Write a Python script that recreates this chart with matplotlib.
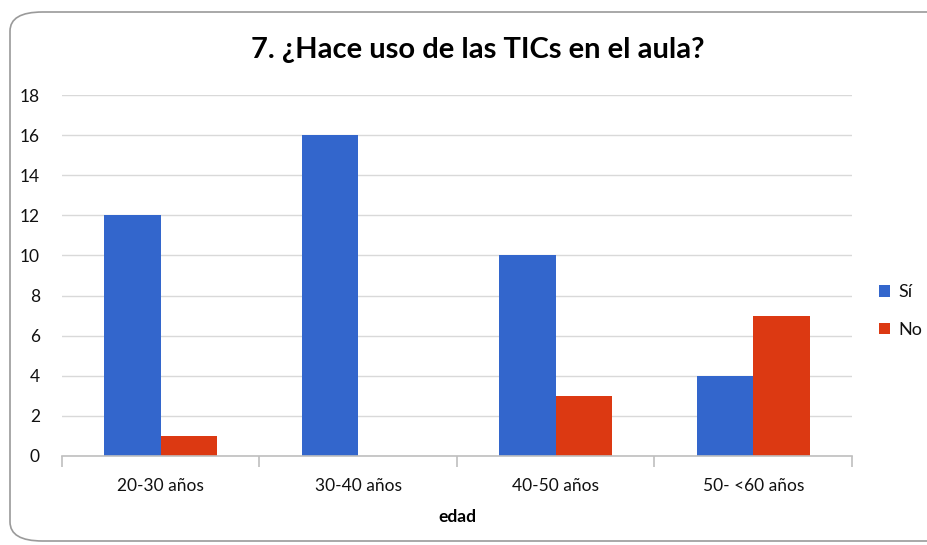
import matplotlib
matplotlib.use("Agg")
import matplotlib.pyplot as plt
import numpy as np
from matplotlib.patches import FancyBboxPatch

categories = ["20-30 años", "30-40 años", "40-50 años", "50- <60 años"]
si_values = [12, 16, 10, 4]
no_values = [1, 0, 3, 7]
series_names = ["Sí", "No"]
yticks = [0, 2, 4, 6, 8, 10, 12, 14, 16, 18]

BLUE = "#3366cc"
RED = "#dc3912"
FONT = ["Lato", "DejaVu Sans"]

W, H = 928, 545
fig = plt.figure(figsize=(W / 100, H / 100), dpi=100)

# rounded frame
frame = FancyBboxPatch((10 / W, 4 / H), 1.2, (541 - 12) / H,
                       boxstyle="round,pad=0,rounding_size=0.035",
                       transform=fig.transFigure, facecolor="white",
                       edgecolor="#9a9a9a", linewidth=1.2, zorder=-10)
fig.patches.append(frame)

ax = fig.add_axes([62 / W, (H - 456) / H, (852 - 62) / W, (456 - 95) / H])
ax.set_facecolor("none")
ax.set_zorder(5)

x = np.arange(len(categories))
bw = 0.285
ax.bar(x - bw / 2, si_values, width=bw, color=BLUE, label=series_names[0], zorder=3)
ax.bar(x + bw / 2, no_values, width=bw, color=RED, label=series_names[1], zorder=3)

ax.set_xlim(-0.5, len(categories) - 0.5)
ax.set_ylim(0, 18)
ax.set_yticks(yticks)
ax.yaxis.grid(True, color="#d9d9d9", linewidth=1, zorder=0)
ax.set_axisbelow(True)
for s in ["top", "right", "left"]:
    ax.spines[s].set_visible(False)
ax.spines["bottom"].set_color("#bfbfbf")
ax.spines["bottom"].set_linewidth(1.2)
ax.spines["bottom"].set_zorder(4)

ax.tick_params(axis="y", length=0, pad=16, labelsize=12.5, labelcolor="#111111")
ax.set_yticklabels([str(v) for v in yticks], fontfamily=FONT)

ax.set_xticks(x)
ax.set_xticklabels(categories, fontfamily=FONT, fontsize=12.5, color="#111111")
ax.tick_params(axis="x", which="major", length=0, pad=16)
ax.set_xticks(np.arange(-0.5, len(categories), 1.0), minor=True)
ax.tick_params(axis="x", which="minor", length=8, color="#bfbfbf", width=1.2, direction="out")

ax.set_xlabel("edad", fontfamily=FONT, fontsize=12.5, fontweight="bold", labelpad=11, color="#000000")

fig.text(478 / W, 1 - 50 / H, "7. ¿Hace uso de las TICs en el aula?",
         ha="center", va="center", fontsize=21, fontweight="bold",
         fontfamily=FONT, color="#000000")

leg = ax.legend(loc="center left", bbox_to_anchor=(879 / W, 1 - 311 / H),
                bbox_transform=fig.transFigure, frameon=False,
                prop={"family": FONT, "size": 13}, handlelength=0.6,
                handleheight=0.6, handletextpad=0.45, labelspacing=1.2,
                borderpad=0, borderaxespad=0)
for t in leg.get_texts():
    t.set_color("#111111")

fig.savefig("out.png", dpi=100)
